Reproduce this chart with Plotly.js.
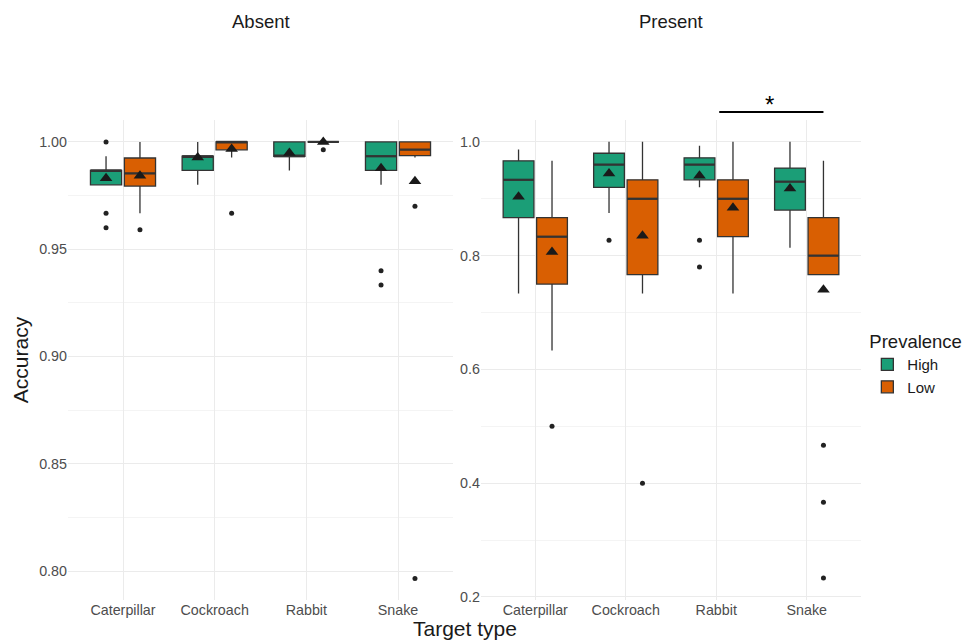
<!DOCTYPE html>
<html>
<head>
<meta charset="utf-8">
<script src="https://cdn.plot.ly/plotly-3.0.1.min.js"></script>
<style>html,body{margin:0;padding:0;background:#fff}#chart{width:979px;height:640px}</style>
</head>
<body>
<div id="chart"></div>
<script>
// ---------- data ----------
const categories = ['Caterpillar', 'Cockroach', 'Rabbit', 'Snake'];
const groups = ['High', 'Low'];
const panels = ['Absent', 'Present'];

// Absent / High
const absentHighQ1 = [0.98, 0.9867, 0.9933, 0.9867];
const absentHighMedian = [0.9867, 0.9933, 0.9933, 0.9933];
const absentHighQ3 = [0.9867, 0.9933, 1.0, 1.0];
const absentHighLower = [0.98, 0.98, 0.9867, 0.98];
const absentHighUpper = [0.9933, 1.0, 1.0, 1.0];
const absentHighMean = [0.983, 0.9927, 0.9948, 0.9877];
const absentHighOutliers = [[1.0, 0.9667, 0.96], [], [], [0.94, 0.9333]];

// Absent / Low
const absentLowQ1 = [0.9794, 0.9963, 1.0, 0.9936];
const absentLowMedian = [0.9853, 1.0, 1.0, 0.9964];
const absentLowQ3 = [0.9925, 1.0, 1.0, 1.0];
const absentLowLower = [0.9667, 0.9927, 1.0, 0.9927];
const absentLowUpper = [1.0, 1.0, 1.0, 1.0];
const absentLowMean = [0.9842, 0.9967, 1.0, 0.9817];
const absentLowOutliers = [[0.959], [0.9667], [0.9963], [0.97, 0.7965]];

// Present / High
const presentHighQ1 = [0.8667, 0.92, 0.9333, 0.88];
const presentHighMedian = [0.9333, 0.96, 0.96, 0.93];
const presentHighQ3 = [0.9667, 0.98, 0.972, 0.9539];
const presentHighLower = [0.7333, 0.875, 0.92, 0.814];
const presentHighUpper = [0.9867, 1.0, 0.993, 1.0];
const presentHighMean = [0.9035, 0.9445, 0.9404, 0.9182];
const presentHighOutliers = [[], [0.827], [0.827, 0.78], []];

// Present / Low
const presentLowQ1 = [0.75, 0.7667, 0.8333, 0.7667];
const presentLowMedian = [0.8333, 0.9, 0.9, 0.8];
const presentLowQ3 = [0.8667, 0.9333, 0.9333, 0.8667];
const presentLowLower = [0.6333, 0.7333, 0.7333, 0.7667];
const presentLowUpper = [0.9667, 1.0, 1.0, 0.9667];
const presentLowMean = [0.8065, 0.835, 0.8842, 0.74];
const presentLowOutliers = [[0.5], [0.4], [], [0.4667, 0.3667, 0.2333]];

const absentTicks = [0.80, 0.85, 0.90, 0.95, 1.00];
const absentTickText = ['0.80', '0.85', '0.90', '0.95', '1.00'];
const presentTicks = [0.2, 0.4, 0.6, 0.8, 1.0];
const presentTickText = ['0.2', '0.4', '0.6', '0.8', '1.0'];

const significance = {from: 'Rabbit', to: 'Snake', toGroup: 'Low', label: '*'};

// ---------- styling ----------
const colors = {High: '#1B9E77', Low: '#D95F02'};
const dodge = 0.185;
const boxWidth = 0.34;
const font = 'Liberation Sans, Arial, sans-serif';

const series = [
  {panel: 'Absent', group: 'High', q1: absentHighQ1, med: absentHighMedian, q3: absentHighQ3, lo: absentHighLower, hi: absentHighUpper, mean: absentHighMean, out: absentHighOutliers},
  {panel: 'Absent', group: 'Low', q1: absentLowQ1, med: absentLowMedian, q3: absentLowQ3, lo: absentLowLower, hi: absentLowUpper, mean: absentLowMean, out: absentLowOutliers},
  {panel: 'Present', group: 'High', q1: presentHighQ1, med: presentHighMedian, q3: presentHighQ3, lo: presentHighLower, hi: presentHighUpper, mean: presentHighMean, out: presentHighOutliers},
  {panel: 'Present', group: 'Low', q1: presentLowQ1, med: presentLowMedian, q3: presentLowQ3, lo: presentLowLower, hi: presentLowUpper, mean: presentLowMean, out: presentLowOutliers}
];

function xpos(catIdx, group) {
  return catIdx + 1 + (group === 'High' ? -dodge : dodge);
}

const traces = [];
series.forEach(s => {
  const pIdx = panels.indexOf(s.panel);
  const xa = pIdx === 0 ? 'x' : 'x2';
  const ya = pIdx === 0 ? 'y' : 'y2';
  const xs = categories.map((c, i) => xpos(i, s.group));
  traces.push({
    type: 'box', xaxis: xa, yaxis: ya, x: xs,
    q1: s.q1, median: s.med, q3: s.q3, lowerfence: s.lo, upperfence: s.hi,
    width: boxWidth, whiskerwidth: 0,
    fillcolor: colors[s.group],
    line: {color: '#333333', width: 1.3},
    name: s.group, legendgroup: s.group, showlegend: pIdx === 0,
    hoverinfo: 'skip', boxpoints: false
  });
  // thicker median line (ggplot style)
  const mx = [], my = [];
  s.med.forEach((m, i) => { mx.push(xs[i] - boxWidth / 2, xs[i] + boxWidth / 2, null); my.push(m, m, null); });
  traces.push({
    type: 'scatter', mode: 'lines', xaxis: xa, yaxis: ya, x: mx, y: my,
    line: {color: '#333333', width: 2.2}, showlegend: false, hoverinfo: 'skip'
  });
  // outliers
  const ox = [], oy = [];
  s.out.forEach((arr, i) => arr.forEach(v => { ox.push(xpos(i, s.group)); oy.push(v); }));
  traces.push({
    type: 'scatter', mode: 'markers', xaxis: xa, yaxis: ya, x: ox, y: oy,
    marker: {symbol: 'circle', size: 5, color: '#222222'},
    showlegend: false, hoverinfo: 'skip', cliponaxis: false
  });
  // means
  traces.push({
    type: 'scatter', mode: 'markers', xaxis: xa, yaxis: ya, x: xs, y: s.mean,
    marker: {symbol: 'triangle-up', size: 11, color: '#1a1a1a'},
    showlegend: false, hoverinfo: 'skip', cliponaxis: false
  });
});

const gridMajor = '#EBEBEB';
const gridMinor = '#F4F4F4';
const tickFont = {family: font, size: 14.3, color: '#4D4D4D'};

const xcommon = {
  range: [0.4, 4.6], tickmode: 'array',
  tickvals: categories.map((c, i) => i + 1), ticktext: categories,
  showgrid: true, gridcolor: gridMajor, gridwidth: 1,
  zeroline: false, showline: false, ticks: '', tickfont: tickFont
};
const ycommon = {
  showgrid: true, gridcolor: gridMajor, gridwidth: 1,
  zeroline: false, showline: false, ticks: '', tickfont: tickFont
};

const sigPaperY = 1.0167;
const layout = {
  width: 979, height: 640,
  margin: {l: 68, r: 118, t: 120, b: 40},
  paper_bgcolor: '#ffffff', plot_bgcolor: '#ffffff',
  font: {family: font, color: '#1a1a1a'},
  showlegend: true,
  legend: {
    x: 1.008, xanchor: 'left', y: 0.575, yanchor: 'top',
    title: {text: 'Prevalence', font: {family: font, size: 18.5, color: '#1a1a1a'}},
    font: {family: font, size: 15, color: '#1a1a1a'},
    tracegroupgap: 0, itemwidth: 30
  },
  xaxis: Object.assign({}, xcommon, {domain: [0, 0.4855], anchor: 'y'}),
  xaxis2: Object.assign({}, xcommon, {domain: [0.5208, 1], anchor: 'y2'}),
  yaxis: Object.assign({}, ycommon, {
    anchor: 'x', range: [0.7865, 1.0102], tickmode: 'array',
    tickvals: absentTicks, ticktext: absentTickText,
    minor: {dtick: 0.025, tick0: 0.8, showgrid: true, gridcolor: gridMinor, gridwidth: 1, ticks: ''},
    title: {text: 'Accuracy', font: {family: font, size: 21, color: '#1a1a1a'}, standoff: 4}
  }),
  yaxis2: Object.assign({}, ycommon, {
    anchor: 'x2', range: [0.1947, 1.0384], tickmode: 'array',
    tickvals: presentTicks, ticktext: presentTickText,
    minor: {dtick: 0.1, tick0: 0.2, showgrid: true, gridcolor: gridMinor, gridwidth: 1, ticks: ''}
  }),
  annotations: [
    {text: 'Absent', xref: 'x domain', yref: 'paper', x: 0.5, y: 1.205, showarrow: false, yanchor: 'middle',
     font: {family: font, size: 18.5, color: '#1a1a1a'}},
    {text: 'Present', xref: 'x2 domain', yref: 'paper', x: 0.5, y: 1.205, showarrow: false, yanchor: 'middle',
     font: {family: font, size: 18.5, color: '#1a1a1a'}},
    {text: 'Target type', xref: 'paper', yref: 'paper', x: 0.5, y: -0.0604, showarrow: false, yanchor: 'middle',
     font: {family: font, size: 21, color: '#1a1a1a'}},
    {text: ' ', xref: 'x2', yref: 'paper',
     x: xpos(categories.indexOf(significance.to), significance.toGroup), y: sigPaperY,
     axref: 'x2', ayref: 'pixel', ax: categories.indexOf(significance.from) + 1, ay: 0,
     showarrow: true, arrowhead: 0, arrowwidth: 1.8, arrowcolor: '#000000', standoff: 0, startstandoff: 0},
    {text: significance.label, xref: 'x2', yref: 'paper',
     x: (categories.indexOf(significance.from) + 1 + xpos(categories.indexOf(significance.to), significance.toGroup)) / 2,
     y: sigPaperY, yanchor: 'bottom', yshift: -8, showarrow: false,
     font: {family: font, size: 24, color: '#000000'}}
  ]
};

Plotly.newPlot('chart', traces, layout, {displayModeBar: false, staticPlot: true});
</script>
</body>
</html>
